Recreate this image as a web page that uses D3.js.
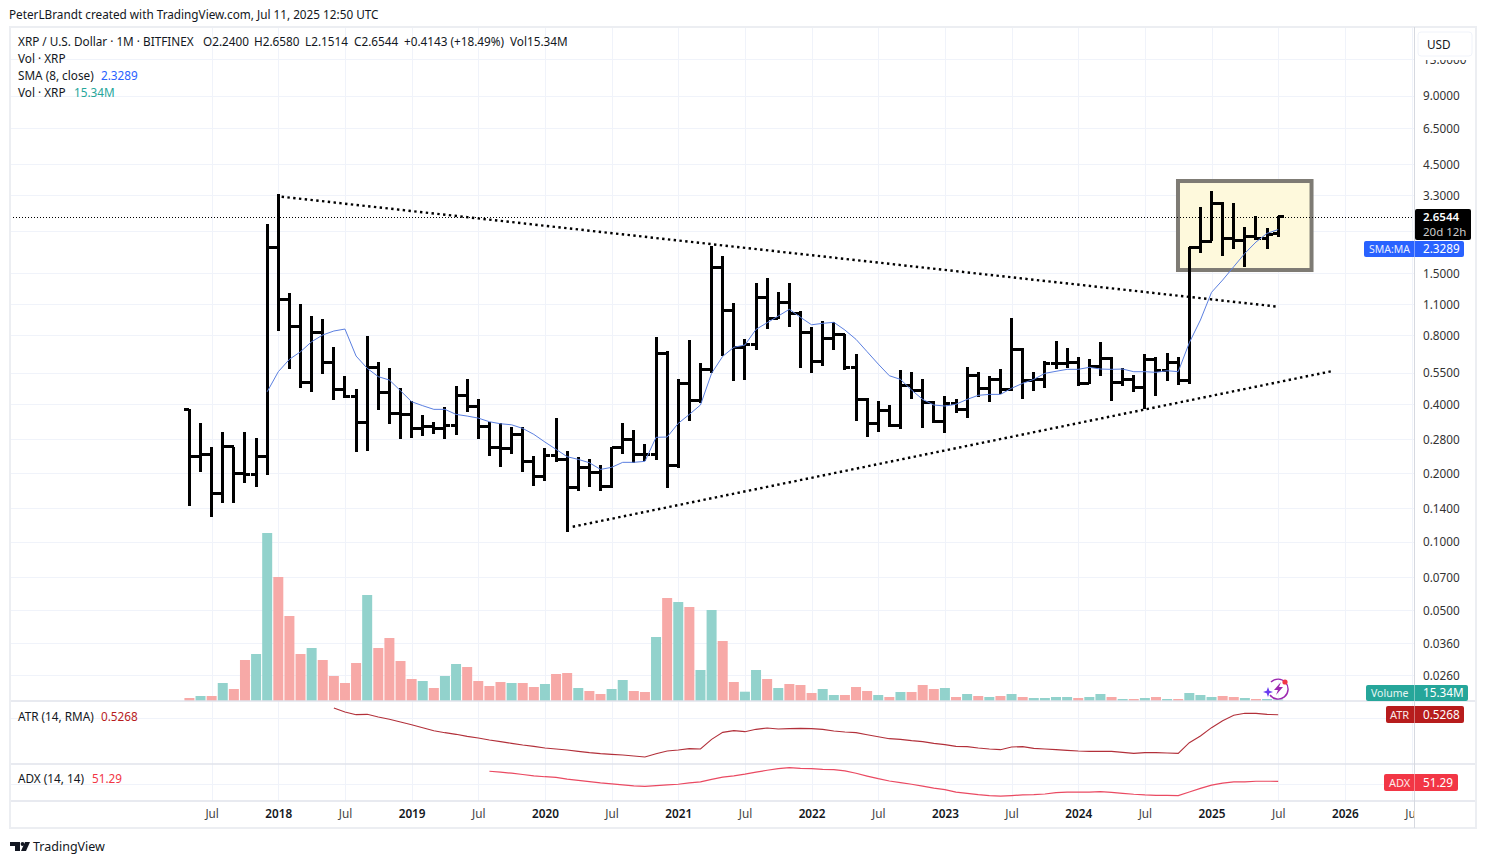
<!DOCTYPE html>
<html lang="en">
<head>
<meta charset="utf-8">
<title>XRP / U.S. Dollar</title>
<script src="https://d3js.org/d3.v7.min.js"></script>
<style>
    body { margin: 0; background: #fff; }
    svg { display: block; font-family: "Noto Sans", sans-serif; font-size: 11.75px; }
    .axis .domain { display: none; }
    .axis text { fill: #333; font-family: "Noto Sans", sans-serif; font-size: 11.75px; }
</style>
</head>
<body>
<svg class="chart"></svg>
<script>
// monthly bars, index 0 = May 2017, index 98 = Jul 2025
var opens = [
    .3794, .2362, .2416, .1626, .2602, .1989, .1975, .2346, 1.946, 1.144,
    .8795, .4984, .8280, .6099, .4642, .4310, .3329, .5799, .4519, .3644,
    .3606, .3134, .3196, .3130, .3230, .4371, .3911, .3196, .2586, .2567,
    .2948, .2245, .1930, .2386, .2290, .1727, .2113, .2010, .1738, .2586,
    .2804, .2409, .2405, .6649, .2163, .4948, .4169, .5699, 1.590, 1.031,
    .7096, .7333, 1.175, .9513, 1.113, 1.000, .8255, .6161, .7773, .8086,
    .5800, .4196, .3305, .3757, .3230, .4815, .4611, .4073, .3363, .4031,
    .3794, .5350, .4693, .5135, .4657, .6953, .5086, .5135, .6036, .6036,
    .6099, .4933, .5855, .6353, .4984, .5135, .4739, .6284, .5626, .6099,
    .5086, 1.946, 2.068, 3.034, 2.133, 2.089, 2.174, 2.133, 2.2400
];
var highs = [
    .3819, .3294, .2586, .3009, .2602, .3009, .2834, 2.454, 3.320, 1.231,
    1.095, .9700, .9410, .7096, .5293, .4642, .7951, .6099, .5743, .4693,
    .4115, .3572, .3329, .3873, .4785, .5135, .4196, .3329, .3294, .3165,
    .3165, .2362, .2559, .3467, .2484, .2353, .2290, .2157, .2602, .3294,
    .3071, .2673, .7849, .6857, .5152, .7615, .6036, 1.971, 1.777, 1.106,
    .7689, 1.357, 1.424, 1.236, 1.353, 1.021, .8738, .9225, .9131, .8086,
    .6608, .4265, .4115, .3952, .5626, .5513, .5135, .4127, .4353, .4224,
    .5836, .5513, .5310, .5682, .9513, .7065, .5513, .6161, .7539, .7019,
    .6415, .6284, .7462, .6415, .5743, .5350, .6608, .6415, .6677, .6415,
    1.946, 2.915, 3.426, 3.066, 3.034, 2.382, 2.660, 2.359, 2.6580
];
var lows = [
    .1434, .2022, .1285, .1469, .1469, .1809, .1727, .1960, .8390, .5682,
    .4693, .4505, .5400, .4182, .4242, .2459, .2499, .3757, .3260, .2821,
    .2834, .2889, .2948, .2804, .2920, .3681, .2804, .2362, .2113, .2409,
    .2010, .1744, .1835, .2223, .1100, .1669, .1738, .1669, .1710, .2409,
    .2200, .2245, .2275, .1720, .2093, .3383, .4031, .5457, .6477, .5065,
    .5118, .6885, .8505, .9410, .8738, .5743, .5457, .5855, .6885, .5626,
    .3363, .2861, .3009, .3165, .3110, .4196, .3130, .3294, .2978, .3644,
    .3467, .4284, .4073, .4427, .4551, .4196, .4551, .4693, .5682, .5743,
    .4785, .4882, .5293, .4115, .4785, .4505, .3794, .4325, .5035, .4836,
    .4882, 1.832, 2.068, 1.777, 1.907, 1.601, 2.089, 1.907, 2.1514
];
var closes = [
    .2362, .2416, .1626, .2602, .1989, .1975, .2346, 1.946, 1.144, .8795,
    .4984, .8280, .6099, .4642, .4310, .3329, .5799, .4519, .3644, .3606,
    .3134, .3196, .3130, .3230, .4371, .3911, .3196, .2586, .2567, .2948,
    .2245, .1930, .2386, .2290, .1727, .2113, .2010, .1738, .2586, .2804,
    .2409, .2405, .6649, .2163, .4948, .4169, .5699, 1.590, 1.031, .7096,
    .7333, 1.175, .9513, 1.113, 1.000, .8255, .6161, .7773, .8086, .5800,
    .4196, .3305, .3757, .3230, .4815, .4611, .4073, .3363, .4031, .3794,
    .5350, .4693, .5135, .4657, .6953, .5086, .5135, .6036, .6036, .6099,
    .4933, .5855, .6353, .4984, .5135, .4739, .6284, .5626, .6099, .5086,
    1.946, 2.068, 3.034, 2.133, 2.089, 2.174, 2.133, 2.218, 2.6544
];
// volume in millions of XRP
var volumes = [
    30, 50, 50, 180, 120, 410, 470, 1680, 1240, 850,
    470, 530, 410, 250, 180, 380, 1060, 530, 630, 400,
    220, 200, 130, 250, 370, 340, 200, 150, 190, 180,
    180, 140, 170, 270, 280, 130, 100, 70, 120, 210,
    100, 90, 640, 1030, 990, 940, 310, 910, 600, 190,
    93, 310, 220, 130, 170, 160, 80, 120, 60, 60,
    140, 100, 60, 40, 90, 90, 160, 120, 130, 40,
    70, 50, 40, 50, 70, 40, 30, 30, 40, 40,
    30, 40, 70, 40, 20, 20, 30, 40, 20, 20,
    80, 60, 40, 50, 40, 30, 20, 20, 15.34
];
var smaStart = 7;
var smaValues = [
    .4533, .5547, .6284, .6788, .7509, .8035, .8365, .8533, .6498, .5743, .5276, .5101, .4579,
    .4098, .3936, .3794, .3794, .3606, .3546, .3474, .3349, .3281, .3247, .3130, .2948, .2728,
    .2534, .2353, .2290, .2214, .2070, .2113, .2223, .2223, .2245, .2861, .2870, .3294, .3606,
    .3965, .5457, .6477, .7096, .7264, .8505, .9093, .9730, 1.041, .9606, .8907, .9038, .9131,
    .8449, .7689, .6788, .5992, .5327, .5135, .4611, .4196, .3965, .3923, .3996, .4196, .4371,
    .4413, .4413, .4693, .4933, .5135, .5457, .5570, .5682, .5682, .5799, .5699, .5682, .5699,
    .5547, .5547, .5513, .5603, .5547, .7432, .9346, 1.236, 1.399, 1.601, 1.832, 2.053, 2.241, 2.3289
];
var atrStart = 13;
var atrValues = [
    .587, .551, .527, .530, .506, .485, .461, .437, .410, .383, .365, .350, .332, .317, .299,
    .284, .269, .254, .242, .227, .218, .209, .197, .185, .176, .170, .164, .155, .146, .176,
    .200, .209, .221, .218, .305, .368, .383, .374, .395, .407, .398, .401, .404, .401, .395,
    .380, .371, .365, .347, .329, .311, .305, .293, .284, .269, .257, .242, .239, .227, .218,
    .212, .236, .239, .224, .218, .212, .206, .200, .197, .197, .197, .188, .179, .185, .185,
    .182, .179, .275, .335, .410, .473, .521, .539, .539, .530, .5268
];
var adxStart = 27;
var adxValues = [
    59.0, 58.3, 57.5, 56.5, 55.5, 54.8, 54.3, 53.0, 52.0, 51.0, 50.0, 49.3, 48.5, 47.8, 47.3,
    48.0, 48.5, 49.0, 50.0, 50.8, 52.8, 54.5, 55.5, 56.8, 58.3, 59.8, 61.0, 61.8, 61.3, 61.0,
    60.5, 60.3, 59.3, 57.5, 55.3, 53.3, 51.5, 50.3, 49.0, 47.5, 46.0, 44.8, 43.0, 42.0, 41.0,
    40.3, 39.8, 40.3, 40.8, 41.0, 41.5, 42.5, 43.0, 43.0, 43.0, 43.3, 42.8, 42.0, 41.3, 40.8,
    40.5, 40.5, 40.3, 43.0, 45.8, 48.3, 49.8, 50.8, 50.8, 51.3, 51.3, 51.29
];

var priceTicks = [13, 9, 6.5, 4.5, 3.3, 1.5, 1.1, .8, .55, .4, .28, .2, .14, .1, .07, .05, .036, .026];
var hiddenGridPrice = 2.3; // its axis label sits under the last price tag
var timeTicks = [2, 8, 14, 20, 26, 32, 38, 44, 50, 56, 62, 68, 74, 80, 86, 92, 98, 104, 110];
var timeLabels = ["Jul", "2018", "Jul", "2019", "Jul", "2020", "Jul", "2021", "Jul", "2022", "Jul", "2023", "Jul", "2024", "Jul", "2025", "Jul", "2026", "Jul"];

// drawings, [month index, price]
var upperTrend = [[8.3, 3.244], [97.9, 1.070]];
var lowerTrend = [[34.5, .1161], [102.9, .5587]];
var boxCorners = [[88.98, 3.80], [101, 1.548]];

var lastClose = closes[closes.length - 1];
var lastSma = smaValues[smaValues.length - 1];

var width = 1486, height = 864;
var left = 10, top_ = 27, axisX = 1414, frameRight = 1476, frameBottom = 828;
var volBase = 701, atrBase = 764, adxBase = 801;

var x = d3.scaleLinear().domain([8, 98]).range([278.3, 1278.2]);
var y = d3.scaleLog().domain([3.3, .1]).range([195, 541.5]);
var yVol = d3.scaleLinear().domain([0, 1680]).range([volBase, 533]);
var yAtr = d3.scaleLinear().domain([.650, .083]).range([volBase, atrBase]);
var yAdx = d3.scaleLinear().domain([64.6, 36.1]).range([atrBase, adxBase]);

var svg = d3.select(".chart").attr("width", width).attr("height", height);

svg.append("defs").append("clipPath").attr("id", "plot")
    .append("rect").attr("x", left).attr("y", top_).attr("width", axisX - left).attr("height", frameBottom - top_);

// grid
var grid = svg.append("g").attr("stroke", "#f0f3fa").attr("clip-path", "url(#plot)");
grid.selectAll(".gx").data(timeTicks).enter().append("line")
    .attr("x1", function(d) { return Math.round(x(d)) + .5; })
    .attr("x2", function(d) { return Math.round(x(d)) + .5; })
    .attr("y1", top_).attr("y2", adxBase);
grid.selectAll(".gy").data(priceTicks.concat(hiddenGridPrice)).enter().append("line")
    .attr("x1", left).attr("x2", axisX)
    .attr("y1", function(d) { return Math.round(y(d)) + .5; })
    .attr("y2", function(d) { return Math.round(y(d)) + .5; });
grid.append("line").attr("x1", left).attr("x2", axisX).attr("y1", Math.round(yAtr(.5)) + .5).attr("y2", Math.round(yAtr(.5)) + .5);
grid.append("line").attr("x1", left).attr("x2", axisX).attr("y1", Math.round(yAdx(49)) + .5).attr("y2", Math.round(yAdx(49)) + .5);

// yellow box
svg.append("rect")
    .attr("x", x(boxCorners[0][0])).attr("y", y(boxCorners[0][1]))
    .attr("width", x(boxCorners[1][0]) - x(boxCorners[0][0]))
    .attr("height", y(boxCorners[1][1]) - y(boxCorners[0][1]))
    .attr("fill", "#fef9dc").attr("stroke", "#7e7b74").attr("stroke-width", 4);

// volume
svg.append("g").selectAll("rect").data(volumes).enter().append("rect")
    .attr("x", function(d, i) { return x(i) - 5; })
    .attr("width", 10)
    .attr("y", function(d) { return yVol(d); })
    .attr("height", function(d) { return volBase - yVol(d); })
    .attr("fill", function(d, i) { return closes[i] >= opens[i] ? "#92d2cc" : "#f7a9a7"; });

// trend lines
var trendLine = d3.line().x(function(d) { return x(d[0]); }).y(function(d) { return y(d[1]); });
svg.selectAll(".trend").data([upperTrend, lowerTrend]).enter().append("path")
    .attr("d", trendLine).attr("fill", "none").attr("stroke", "#000")
    .attr("stroke-width", 2.4).attr("stroke-dasharray", "2.4 3.4");

// last price line
svg.append("line").attr("x1", left).attr("x2", axisX)
    .attr("y1", Math.round(y(lastClose)) + .5).attr("y2", Math.round(y(lastClose)) + .5)
    .attr("stroke", "#000").attr("stroke-dasharray", "1 2");

// ohlc bars
var bar = svg.append("g").attr("stroke", "#000").attr("stroke-width", 3).attr("shape-rendering", "crispEdges")
    .selectAll("g").data(closes).enter().append("g");
bar.append("line")
    .attr("x1", function(d, i) { return x(i); }).attr("x2", function(d, i) { return x(i); })
    .attr("y1", function(d, i) { return y(highs[i]); }).attr("y2", function(d, i) { return y(lows[i]); });
bar.append("line")
    .attr("x1", function(d, i) { return x(i) - 5.5; }).attr("x2", function(d, i) { return x(i); })
    .attr("y1", function(d, i) { return y(opens[i]); }).attr("y2", function(d, i) { return y(opens[i]); });
bar.append("line")
    .attr("x1", function(d, i) { return x(i); }).attr("x2", function(d, i) { return x(i) + 5.5; })
    .attr("y1", function(d) { return y(d); }).attr("y2", function(d) { return y(d); });

// sma, atr, adx
svg.append("path").datum(smaValues)
    .attr("d", d3.line().x(function(d, i) { return x(i + smaStart); }).y(function(d) { return y(d); }))
    .attr("fill", "none").attr("stroke", "#5b7fe0").attr("stroke-width", 1);
svg.append("path").datum(atrValues)
    .attr("d", d3.line().x(function(d, i) { return x(i + atrStart); }).y(function(d) { return yAtr(d); }))
    .attr("fill", "none").attr("stroke", "#b2303a").attr("stroke-width", 1.1);
svg.append("path").datum(adxValues)
    .attr("d", d3.line().x(function(d, i) { return x(i + adxStart); }).y(function(d) { return yAdx(d); }))
    .attr("fill", "none").attr("stroke", "#ea4a62").attr("stroke-width", 1.2);

// pane separators and frame
svg.append("g").attr("stroke", "#e0e3eb").attr("stroke-width", 1.5).selectAll("line")
    .data([volBase, atrBase, adxBase]).enter().append("line")
    .attr("x1", left).attr("x2", frameRight)
    .attr("y1", function(d) { return d; }).attr("y2", function(d) { return d; });
svg.append("rect").attr("x", left).attr("y", top_)
    .attr("width", frameRight - left).attr("height", frameBottom - top_)
    .attr("fill", "none").attr("stroke", "#eceef2").attr("stroke-width", 2);

// axes
var priceAxis = d3.axisRight(y).tickValues(priceTicks).tickSize(0).tickPadding(9).tickFormat(d3.format(".4f"));
svg.append("g").attr("class", "axis").attr("transform", "translate(" + axisX + ",.5)").call(priceAxis);

var timeAxis = d3.axisBottom(x).tickValues(timeTicks).tickSize(0).tickPadding(9)
    .tickFormat(function(d) { return timeLabels[timeTicks.indexOf(d)]; });
svg.append("g").attr("clip-path", "url(#plot)")
    .append("g").attr("class", "axis")
    .attr("transform", "translate(0," + adxBase + ")").call(timeAxis)
    .selectAll("text")
    .attr("font-weight", function(d) { return timeLabels[timeTicks.indexOf(d)] === "Jul" ? null : 600; })
    .style("fill", function(d) { return timeLabels[timeTicks.indexOf(d)] === "Jul" ? "#444" : "#131722"; });

svg.append("line").attr("x1", axisX + .5).attr("x2", axisX + .5).attr("y1", top_).attr("y2", frameBottom)
    .attr("stroke", "#d6d9e0");

// USD button, masks the top of the axis
svg.append("rect").attr("x", axisX + 1).attr("y", 28).attr("width", frameRight - axisX - 2).attr("height", 32).attr("fill", "#fff");
svg.append("rect").attr("x", 1418).attr("y", 32).attr("width", 54).attr("height", 24).attr("rx", 3)
    .attr("fill", "#fff").attr("stroke", "#f0f3fa");
svg.append("text").attr("x", 1427).attr("y", 49).attr("fill", "#131722").text("USD");

// right side tags
function tag(x0, x1, y0, y1, fill) {
    svg.append("rect").attr("x", x0).attr("y", y0).attr("width", x1 - x0).attr("height", y1 - y0).attr("rx", 2).attr("fill", fill);
    if (x0 < axisX) {
        svg.append("line").attr("x1", axisX + .5).attr("x2", axisX + .5).attr("y1", y0).attr("y2", y1)
            .attr("stroke", "#fff").attr("stroke-opacity", .4);
    }
}
function label(tx, ty, txt, fill, weight) {
    return svg.append("text").attr("x", tx).attr("y", ty).attr("fill", fill).attr("font-weight", weight || null).text(txt);
}
tag(axisX + 1, 1471, 209, 240, "#000");
label(1423, 221, d3.format(".4f")(lastClose), "#fff", 600).style("font-size", "11.5px");
label(1423, 236, "20d 12h", "#ccc").style("font-size", "11.5px");
tag(1364, 1464, 241, 257, "#2962ff");
label(1369, 253, "SMA:MA", "#e8edff").style("font-size", "10.5px");
label(1423, 253, d3.format(".4f")(lastSma), "#fff");
tag(1366, 1468, 685, 701, "#26a69a");
label(1371, 697, "Volume", "#e6f6f4").style("font-size", "10.5px");
label(1423, 697, "15.34M", "#fff");
tag(1386, 1464, 706, 723, "#b71c1c");
label(1390, 719, "ATR", "#f8e8e8").style("font-size", "11px");
label(1423, 719, "0.5268", "#fff");
tag(1384, 1458, 774, 791, "#f23645");
label(1389, 787, "ADX", "#fde8ea").style("font-size", "11px");
label(1423, 787, "51.29", "#fff");

// header and legends
label(9, 19, "PeterLBrandt created with TradingView.com, Jul 11, 2025 12:50 UTC", "#131722");
label(18, 46, "XRP / U.S. Dollar · 1M · BITFINEX", "#131722");
label(203, 46, "O2.2400", "#131722");
label(254, 46, "H2.6580", "#131722");
label(305, 46, "L2.1514", "#131722");
label(354, 46, "C2.6544", "#131722");
label(404, 46, "+0.4143 (+18.49%)", "#131722");
label(510, 46, "Vol15.34M", "#131722");
label(18, 63, "Vol · XRP", "#131722");
label(18, 80, "SMA (8, close)", "#131722");
label(101, 80, "2.3289", "#2962ff");
label(18, 97, "Vol · XRP", "#131722");
label(74, 97, "15.34M", "#26a69a");
label(18, 721, "ATR (14, RMA)", "#131722");
label(101, 721, "0.5268", "#b71c1c");
label(18, 783, "ADX (14, 14)", "#131722");
label(92, 783, "51.29", "#f23645");

// TradingView mark, bottom left
var logo = svg.append("g").attr("fill", "#131722");
logo.append("path").attr("d", "M10 842h10v9h-5v-5h-5z");
logo.append("circle").attr("cx", 22.5).attr("cy", 844).attr("r", 1.9);
logo.append("path").attr("d", "M25 842h5l-4 9h-5z");
label(33, 851, "TradingView", "#131722").style("font-size", "12.5px");

// purple badge on the volume pane
var badge = svg.append("g");
badge.append("path").attr("d", "M1271 682a10 10 0 1 1 -1 13").attr("fill", "none").attr("stroke", "#9c27b0").attr("stroke-width", 1.4);
badge.append("path").attr("d", "M1281 682l-7 8h4l-2 5l7 -8h-4z").attr("fill", "#9c27b0");
badge.append("circle").attr("cx", 1285).attr("cy", 682).attr("r", 2.6).attr("fill", "#f23645");
badge.append("path").attr("d", "M1268 687l1.3 3.7l3.7 1.3l-3.7 1.3l-1.3 3.7l-1.3 -3.7l-3.7 -1.3l3.7 -1.3z").attr("fill", "#6a3df0");
</script>
</body>
</html>
